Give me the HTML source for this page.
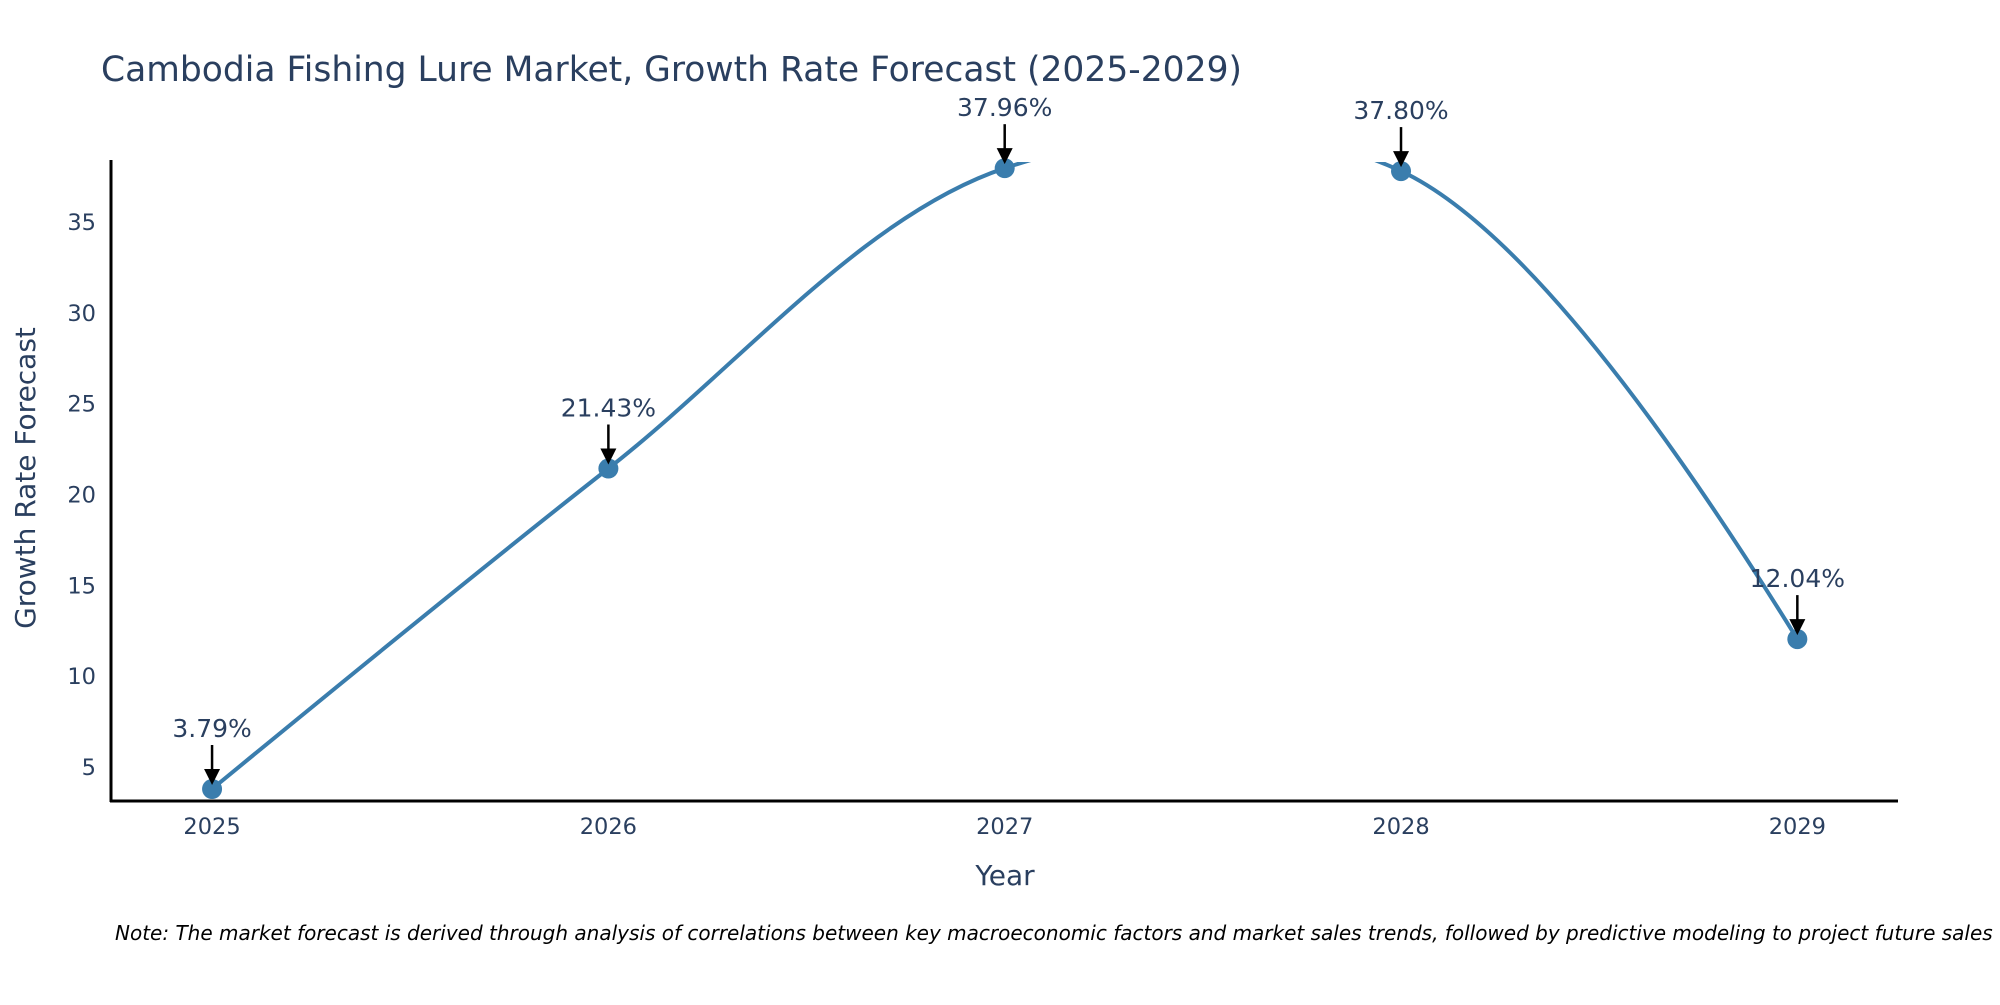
<!DOCTYPE html>
<html><head><meta charset="utf-8"><style>
body{margin:0;background:#fff;}
svg text{font-family:"DejaVu Sans","Liberation Sans",sans-serif;}
</style></head><body>
<svg id="chart" width="2000" height="1000" xmlns="http://www.w3.org/2000/svg">
<defs>
<clipPath id="plotclip"><rect x="111" y="162" width="1787" height="639"/></clipPath>
</defs>
<text x="101" y="81" font-size="34.5" fill="#2a3f5f">Cambodia Fishing Lure Market, Growth Rate Forecast (2025-2029)</text>
<g id="yticks"></g><g id="xticks"></g>
<g clip-path="url(#plotclip)"><path id="line" fill="none" stroke="#3a7dad" stroke-width="4"/></g>
<g id="marks"></g>
<line x1="111" y1="160" x2="111" y2="802" stroke="#000" stroke-width="3"/>
<line x1="110" y1="801" x2="1898" y2="801" stroke="#000" stroke-width="3"/>
<text x="1005" y="885" font-size="28" fill="#2a3f5f" text-anchor="middle">Year</text>
<text transform="translate(35,478) rotate(-90)" font-size="28" fill="#2a3f5f" text-anchor="middle">Growth Rate Forecast</text>
<text x="115" y="940" font-size="20" font-style="italic" fill="#000">Note: The market forecast is derived through analysis of correlations between key macroeconomic factors and market sales trends, followed by predictive modeling to project future sales</text>
</svg>
<script>
const years = [2025, 2026, 2027, 2028, 2029];
const values = [3.79, 21.43, 37.96, 37.80, 12.04];
const labels = ["3.79%", "21.43%", "37.96%", "37.80%", "12.04%"];
const yTicks = [5, 10, 15, 20, 25, 30, 35];

const X0 = 2024.745, X1 = 2029.254, PX0 = 111, PX1 = 1898;
const Y0 = 3.13, Y1 = 38.3, PY0 = 801, PY1 = 162;
const sx = v => PX0 + (v - X0) / (X1 - X0) * (PX1 - PX0);
const sy = v => PY0 - (v - Y0) / (Y1 - Y0) * (PY0 - PY1);
const NS = "http://www.w3.org/2000/svg";

function mk(tag, attrs, parent) {
  const e = document.createElementNS(NS, tag);
  for (const k in attrs) e.setAttribute(k, attrs[k]);
  parent.appendChild(e); return e;
}
const yt = document.getElementById('yticks');
yTicks.forEach(t => {
  const e = mk('text', {x: 96, y: sy(t) + 8, 'font-size': 22.5, fill: '#2a3f5f', 'text-anchor': 'end'}, yt);
  
  
  e.textContent = t;
});
const xt = document.getElementById('xticks');
years.forEach(t => {
  const e = mk('text', {x: sx(t), y: 834, 'font-size': 22.5, fill: '#2a3f5f', 'text-anchor': 'middle'}, xt);
  
  
  e.textContent = t;
});

const pts = years.map((y, i) => [sx(y), sy(values[i])]);
function tangent(p, t, n, s) {
  const d1x = p[0]-t[0], d1y = p[1]-t[1], d2x = n[0]-t[0], d2y = n[1]-t[1];
  const d1a = Math.pow(d1x*d1x + d1y*d1y, 0.25), d2a = Math.pow(d2x*d2x + d2y*d2y, 0.25);
  const nx = (d2a*d2a*d1x - d1a*d1a*d2x)*s, ny = (d2a*d2a*d1y - d1a*d1a*d2y)*s;
  const de1 = 3*d2a*(d1a+d2a), de2 = 3*d1a*(d1a+d2a);
  return [[t[0]+nx/de1, t[1]+ny/de1], [t[0]-nx/de2, t[1]-ny/de2]];
}
const tg = [];
for (let i = 1; i < pts.length - 1; i++) tg.push(tangent(pts[i-1], pts[i], pts[i+1], 1));
const P = p => p[0].toFixed(2) + ',' + p[1].toFixed(2);
let d = 'M' + P(pts[0]) + 'Q' + P(tg[0][0]) + ' ' + P(pts[1]);
for (let i = 2; i < pts.length - 1; i++) d += 'C' + P(tg[i-2][1]) + ' ' + P(tg[i-1][0]) + ' ' + P(pts[i]);
d += 'Q' + P(tg[pts.length-3][1]) + ' ' + P(pts[pts.length-1]);
document.getElementById('line').setAttribute('d', d);

const mg = document.getElementById('marks');
pts.forEach((p, i) => {
  const c = mk('circle', {cx: p[0], cy: p[1], r: 10, fill: '#3a7dad'}, mg);
  
  
  const a = mk('line', {x1: p[0], y1: p[1] - 44, x2: p[0], y2: p[1] - 18, stroke: '#000', 'stroke-width': 2.5}, mg);
  
  
  const h = mk('polygon', {points: (p[0]-8) + ',' + (p[1]-20) + ' ' + (p[0]+8) + ',' + (p[1]-20) + ' ' + p[0] + ',' + (p[1]-4), fill: '#000'}, mg);
  
  
  const t = mk('text', {x: p[0], y: p[1] - 52, 'font-size': 25, fill: '#2a3f5f', 'text-anchor': 'middle'}, mg);
  
  
  t.textContent = labels[i];
});
</script>
</body></html>
